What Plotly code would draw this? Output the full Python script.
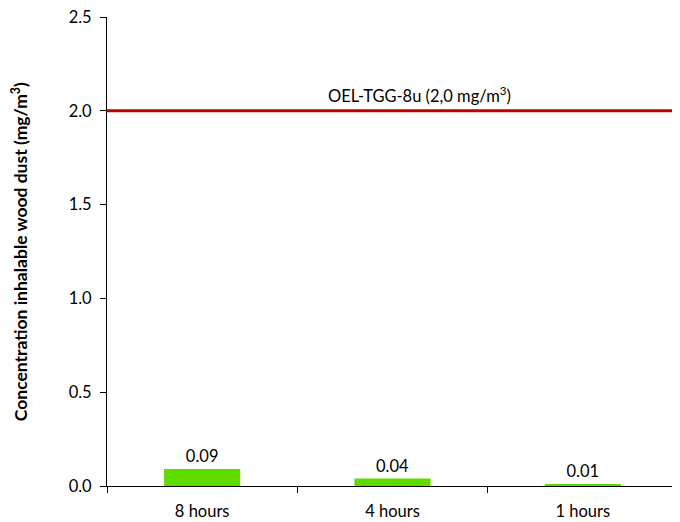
import plotly.graph_objects as go

categories = ["8 hours", "4 hours", "1 hours"]
values = [0.09, 0.04, 0.01]
value_labels = ["0.09", "0.04", "0.01"]
oel_value = 2.0
oel_label = "OEL-TGG-8u (2,0 mg/m<sup>3</sup>)"
y_title = "Concentration inhalable wood dust (mg/m<sup>3</sup>)"

FONT = "Lato, 'Open Sans', sans-serif"
FS = 16.5

fig = go.Figure()
fig.add_trace(go.Bar(
    x=categories, y=values,
    marker=dict(color="#5EDC00", line=dict(width=0)),
    width=0.4,
    text=value_labels, textposition="outside",
    textfont=dict(family=FONT, size=FS, color="#000000"),
    cliponaxis=False,
))

fig.add_shape(type="line", xref="paper", yref="y", x0=0, x1=1, y0=oel_value, y1=oel_value,
              line=dict(color="#C00000", width=3))
fig.add_annotation(x=0.548, xref="paper", y=oel_value, yref="y", text=oel_label,
                   showarrow=False, yanchor="bottom", yshift=3,
                   font=dict(family=FONT, size=FS, color="#000000"))
fig.add_annotation(x=-0.153, xref="paper", y=0.5, yref="paper",
                   text="<b>" + y_title + "</b>", textangle=-90, showarrow=False,
                   xanchor="center", yanchor="middle",
                   font=dict(family=FONT, size=17.5, color="#000000"))

# page body has an 8px default margin; size the figure so the plot area lands as in the reference
fig.update_layout(
    width=672, height=514,
    margin=dict(l=99, r=2, t=9, b=36),
    paper_bgcolor="white", plot_bgcolor="white",
    showlegend=False,
    font=dict(family=FONT, size=FS, color="#000000"),
    bargap=0.6,
)
fig.update_xaxes(
    showline=True, linecolor="black", linewidth=1, automargin=False,
    ticks="outside", tickson="boundaries", ticklen=6, tickcolor="black",
    showgrid=False, tickfont=dict(family=FONT, size=FS), ticklabeloverflow="allow",
    ticklabelstandoff=10,
)
fig.update_yaxes(
    range=[0, 2.5], dtick=0.5, tickformat=".1f", automargin=False,
    showline=True, linecolor="black", linewidth=1,
    ticks="outside", ticklen=6, tickcolor="black",
    showgrid=False, zeroline=False, tickfont=dict(family=FONT, size=FS),
    ticklabeloverflow="allow", ticklabelstandoff=5,
)

fig.write_html("out.html")
